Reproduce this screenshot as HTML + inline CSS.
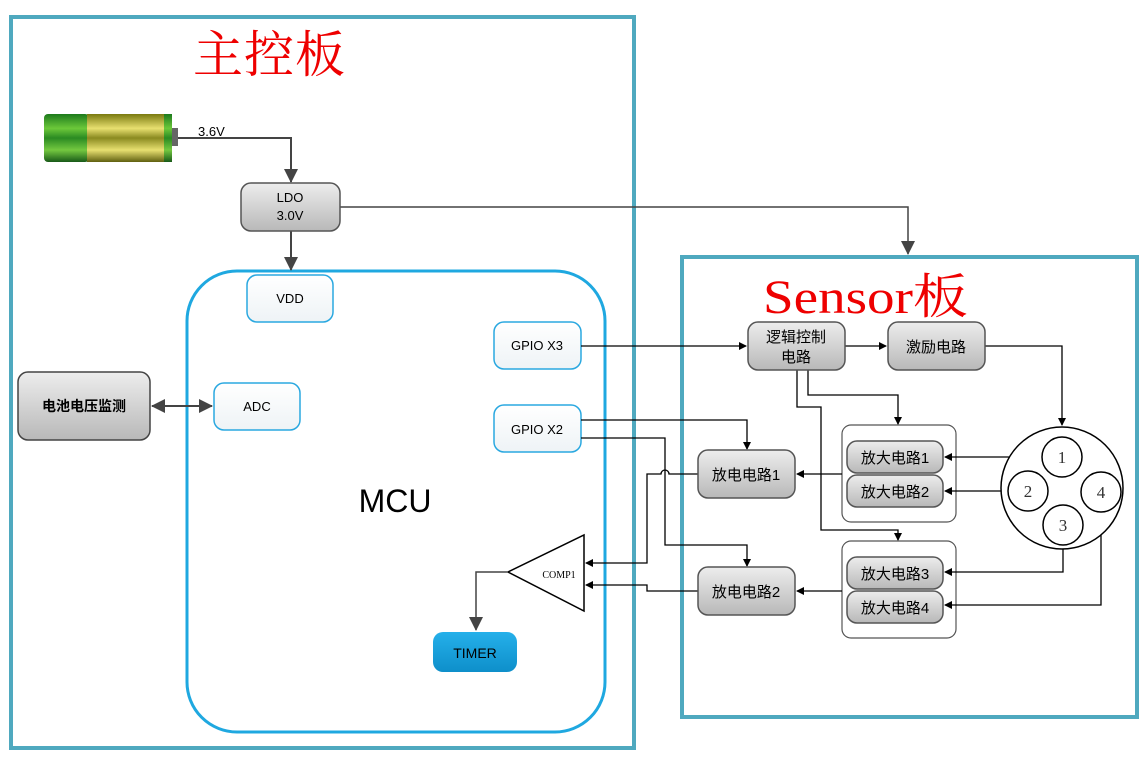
<!DOCTYPE html>
<html><head><meta charset="utf-8"><style>
body{margin:0;background:#fff;width:1145px;height:757px;overflow:hidden}
svg{display:block}
.s{font-family:"Liberation Sans","Noto Sans CJK SC",sans-serif}
.r{font-family:"Liberation Serif","Noto Serif CJK SC",serif}
</style></head><body>
<svg width="1145" height="757" viewBox="0 0 1145 757" xmlns="http://www.w3.org/2000/svg">
<defs>
<linearGradient id="g" x1="0" y1="0" x2="0" y2="1"><stop offset="0" stop-color="#ededed"/><stop offset="1" stop-color="#b8b8b8"/></linearGradient>
<linearGradient id="w" x1="0" y1="0" x2="0" y2="1"><stop offset="0" stop-color="#fff"/><stop offset="1" stop-color="#eef3f6"/></linearGradient>
<linearGradient id="bl" x1="0" y1="0" x2="0" y2="1"><stop offset="0" stop-color="#25b0ea"/><stop offset="1" stop-color="#0e8fca"/></linearGradient>
<linearGradient id="bat" x1="0" y1="0" x2="0" y2="1"><stop offset="0" stop-color="#1c7a1c"/><stop offset="0.3" stop-color="#6cc83a"/><stop offset="0.5" stop-color="#2a8a22"/><stop offset="0.75" stop-color="#74c840"/><stop offset="1" stop-color="#185a18"/></linearGradient>
<linearGradient id="baty" x1="0" y1="0" x2="0" y2="1"><stop offset="0" stop-color="#7a7a10"/><stop offset="0.3" stop-color="#e8e070"/><stop offset="0.5" stop-color="#8a8a20"/><stop offset="0.75" stop-color="#e8e070"/><stop offset="1" stop-color="#606010"/></linearGradient>
<marker id="a" markerWidth="8" markerHeight="8" refX="7" refY="4" orient="auto" markerUnits="userSpaceOnUse"><path d="M0,0L8,4L0,8z" fill="#000"/></marker>
<marker id="A" markerWidth="14" markerHeight="14" refX="13" refY="7" orient="auto" markerUnits="userSpaceOnUse"><path d="M0,0L14,7L0,14z" fill="#444"/></marker>
<marker id="As" markerWidth="14" markerHeight="14" refX="1" refY="7" orient="auto" markerUnits="userSpaceOnUse"><path d="M14,0L0,7L14,14z" fill="#444"/></marker>
</defs>
<rect x="11" y="17" width="623" height="731" fill="none" stroke="#4fa9bf" stroke-width="4"/>
<rect x="682" y="257" width="455" height="460" fill="none" stroke="#4fa9bf" stroke-width="4"/>
<rect x="187" y="271" width="418" height="461" rx="50" fill="none" stroke="#1fa8e0" stroke-width="3"/>
<text x="193" y="72" class="r" font-size="50" fill="#e00" textLength="152">主控板</text>
<text x="763" y="313" class="r" font-size="48" fill="#e00" textLength="205" lengthAdjust="spacingAndGlyphs">Sensor板</text>
<rect x="44" y="114" width="45" height="48" rx="4" fill="url(#bat)"/>
<rect x="87" y="114" width="82" height="48" fill="url(#baty)"/>
<rect x="164" y="114" width="8" height="48" fill="url(#bat)"/>
<rect x="172" y="128" width="6" height="18" fill="#666"/>
<text x="198" y="136" class="s" font-size="13">3.6V</text>
<path d="M178,138H291V182" fill="none" stroke="#444" stroke-width="2" marker-end="url(#A)"/>
<path d="M291,231V270" fill="none" stroke="#444" stroke-width="2" marker-end="url(#A)"/>
<path d="M340,207H908V254" fill="none" stroke="#444" stroke-width="1.5" marker-end="url(#A)"/>
<rect x="241" y="183" width="99" height="48" rx="10" fill="url(#g)" stroke="#555" stroke-width="1.5"/>
<text x="290" y="202" class="s" font-size="13" text-anchor="middle">LDO</text>
<text x="290" y="220" class="s" font-size="13" text-anchor="middle">3.0V</text>
<rect x="247" y="275" width="86" height="47" rx="10" fill="url(#w)" stroke="#2aa8e0" stroke-width="1.5"/>
<text x="290" y="303" class="s" font-size="13" text-anchor="middle">VDD</text>
<rect x="214" y="383" width="86" height="47" rx="10" fill="url(#w)" stroke="#2aa8e0" stroke-width="1.5"/>
<text x="257" y="411" class="s" font-size="13" text-anchor="middle">ADC</text>
<rect x="18" y="372" width="132" height="68" rx="10" fill="url(#g)" stroke="#444" stroke-width="1.5"/>
<text x="84" y="411" class="s" font-size="14" font-weight="bold" text-anchor="middle">电池电压监测</text>
<path d="M152,406H212" stroke="#444" stroke-width="2" marker-start="url(#As)" marker-end="url(#A)"/>
<rect x="494" y="322" width="87" height="47" rx="10" fill="url(#w)" stroke="#2aa8e0" stroke-width="1.5"/>
<text x="537" y="350" class="s" font-size="13" text-anchor="middle">GPIO X3</text>
<rect x="494" y="405" width="87" height="47" rx="10" fill="url(#w)" stroke="#2aa8e0" stroke-width="1.5"/>
<text x="537" y="434" class="s" font-size="13" text-anchor="middle">GPIO X2</text>
<text x="395" y="512" class="s" font-size="32" text-anchor="middle">MCU</text>
<path d="M508,572L584,535V611Z" fill="#fff" stroke="#000" stroke-width="1.5"/>
<text x="559" y="578" class="r" font-size="10" text-anchor="middle">COMP1</text>
<path d="M508,572H476V630" fill="none" stroke="#444" stroke-width="1.5" marker-end="url(#A)"/>
<rect x="433" y="632" width="84" height="40" rx="10" fill="url(#bl)"/>
<text x="475" y="658" class="s" font-size="14" text-anchor="middle">TIMER</text>
<g class="s" font-size="15" text-anchor="middle">
<rect x="842" y="425" width="114" height="97" rx="9" fill="#fff" stroke="#555" stroke-width="1.2"/>
<rect x="842" y="541" width="114" height="97" rx="9" fill="#fff" stroke="#555" stroke-width="1.2"/>
</g>
<g stroke="#000" stroke-width="1.3" fill="none">
<path d="M581,346H746" marker-end="url(#a)"/>
<path d="M845,346H886" marker-end="url(#a)"/>
<path d="M985,346H1062V425" marker-end="url(#a)"/>
<path d="M808,370V395H898V424" marker-end="url(#a)"/>
<path d="M797,370V407H821V530H898V540" marker-end="url(#a)"/>
<path d="M581,420H747V449" marker-end="url(#a)"/>
<path d="M581,438H665V545H747V566" marker-end="url(#a)"/>
<path d="M842,474H797" marker-end="url(#a)"/>
<path d="M842,591H797" marker-end="url(#a)"/>
<path d="M698,474H669A4,4 0 0 0 661,474H647V563H586" marker-end="url(#a)"/>
<path d="M698,591H647V585H586" marker-end="url(#a)"/>
</g>
<g class="s" font-size="15" text-anchor="middle">
<rect x="748" y="322" width="97" height="48" rx="10" fill="url(#g)" stroke="#555" stroke-width="1.5"/>
<text x="796" y="342">逻辑控制</text><text x="796" y="362">电路</text>
<rect x="888" y="322" width="97" height="48" rx="10" fill="url(#g)" stroke="#555" stroke-width="1.5"/>
<text x="936" y="352">激励电路</text>
<rect x="698" y="450" width="97" height="48" rx="10" fill="url(#g)" stroke="#555" stroke-width="1.5"/>
<text x="746" y="480">放电电路1</text>
<rect x="698" y="567" width="97" height="48" rx="10" fill="url(#g)" stroke="#555" stroke-width="1.5"/>
<text x="746" y="597">放电电路2</text>
<rect x="847" y="441" width="96" height="32" rx="10" fill="url(#g)" stroke="#555" stroke-width="1.5"/>
<text x="895" y="463">放大电路1</text>
<rect x="847" y="475" width="96" height="32" rx="10" fill="url(#g)" stroke="#555" stroke-width="1.5"/>
<text x="895" y="497">放大电路2</text>
<rect x="847" y="557" width="96" height="32" rx="10" fill="url(#g)" stroke="#555" stroke-width="1.5"/>
<text x="895" y="579">放大电路3</text>
<rect x="847" y="591" width="96" height="32" rx="10" fill="url(#g)" stroke="#555" stroke-width="1.5"/>
<text x="895" y="613">放大电路4</text>
</g>
<g stroke="#000" stroke-width="1.3" fill="none">
<path d="M1042,457H945" marker-end="url(#a)"/>
<path d="M1008,491H945" marker-end="url(#a)"/>
<path d="M1063,545V572H945" marker-end="url(#a)"/>
<path d="M1101,512V605H945" marker-end="url(#a)"/>
</g>
<g fill="#fff" stroke="#000" stroke-width="1.5">
<circle cx="1062" cy="488" r="61"/>
<circle cx="1062" cy="457" r="20"/>
<circle cx="1028" cy="491" r="20"/>
<circle cx="1101" cy="492" r="20"/>
<circle cx="1063" cy="525" r="20"/>
</g>
<g class="r" font-size="17" text-anchor="middle" fill="#333">
<text x="1062" y="463">1</text><text x="1028" y="497">2</text><text x="1101" y="498">4</text><text x="1063" y="531">3</text>
</g>
</svg>
</body></html>
